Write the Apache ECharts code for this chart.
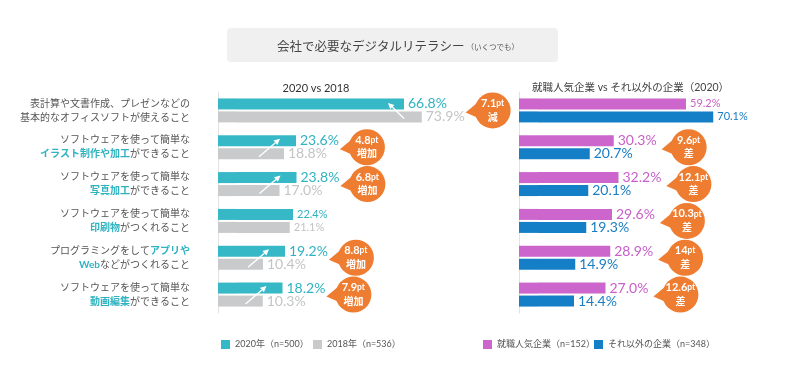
<!DOCTYPE html>
<html><head><meta charset="utf-8">
<script src="https://cdn.jsdelivr.net/npm/echarts@6/dist/echarts.min.js"></script>
<style>html,body{margin:0;padding:0;background:#fff}#c{width:800px;height:380px}</style>
</head><body><div id="c"></div>
<script>
// ---------- data ----------
const categories = [
  '表計算や文書作成、プレゼンなどの\n基本的なオフィスソフトが使えること',
  'ソフトウェアを使って簡単な\n[イラスト制作や加工]ができること',
  'ソフトウェアを使って簡単な\n[写真加工]ができること',
  'ソフトウェアを使って簡単な\n[印刷物]がつくれること',
  'プログラミングをして[アプリや]\n[Web]などがつくれること',
  'ソフトウェアを使って簡単な\n[動画編集]ができること'
];
const v2020 = [66.8, 23.6, 23.8, 22.4, 19.2, 18.2];
const v2018 = [73.9, 18.8, 17.0, 21.1, 10.4, 10.3];
const vPopular = [59.2, 30.3, 32.2, 29.6, 28.9, 27.0];
const vOther = [70.1, 20.7, 20.1, 19.3, 14.9, 14.4];
const diffLeft = ['7.1', '4.8', '6.8', null, '8.8', '7.9'];
const diffLeftWord = ['減', '増加', '増加', null, '増加', '増加'];
const diffRight = [null, '9.6', '12.1', '10.3', '14', '12.6'];
const diffRightWord = [null, '差', '差', '差', '差', '差'];
const seriesNames = ['2020年（n=500）', '2018年（n=536）', '就職人気企業（n=152）', 'それ以外の企業（n=348）'];
const titleText = '会社で必要なデジタルリテラシー';
const titleSub = '（いくつでも）';
const headerLeft = '2020 vs 2018';
const headerRight = '就職人気企業 vs それ以外の企業（2020）';

// ---------- style ----------
const FF = 'Lato, "Noto Sans CJK JP", sans-serif';
const C = { teal: '#37b8c6', gray: '#c9cacc', pink: '#cc66cc', blue: '#147fc6', orange: '#ee7d31',
            tealT: '#2fb3c1', grayT: '#c3c4c6', pinkT: '#c95fc9', blueT: '#1a7dc2' };
const PAD = 7.6;       // bars in the original start with a fixed offset
const BW = 11, LBL_DIST = 4;
const smallLeft = [3], smallRight = [0];

function fmtCat(s) {
  return s.split('\n').map(line => line.split(/(\[[^\]]+\])/).filter(Boolean)
    .map(t => t[0] === '[' ? '{h|' + t.slice(1, -1) + '}' : '{n|' + t + '}').join('')).join('\n');
}
function fontSizeOf(i, small) { return small.indexOf(i) >= 0 ? 11 : 14; }

function mkPair(stack, name, vals, color, tcolor, small, axis) {
  return [
    { type: 'bar', name: '_pad_' + stack, stack: stack, xAxisIndex: axis, yAxisIndex: axis, barWidth: BW, barGap: '18%',
      silent: true, itemStyle: { color: color }, data: vals.map(() => PAD) },
    { type: 'bar', name: name, stack: stack, xAxisIndex: axis, yAxisIndex: axis, barWidth: BW, barGap: '18%',
      itemStyle: { color: color },
      data: vals.map((v, i) => ({ value: v, label: { fontSize: fontSizeOf(i, small) } })),
      label: { show: true, position: 'right', distance: LBL_DIST, color: tcolor, fontFamily: FF, fontSize: 14,
        formatter: p => vals[p.dataIndex].toFixed(1) + '%' } }
  ];
}

const chart = echarts.init(document.getElementById('c'), null, { renderer: 'canvas' });
const legendBase = { top: 335, itemWidth: 9, itemHeight: 9, icon: 'rect', textStyle: { fontSize: 9, color: '#555', fontFamily: FF } };
const option = {
  animation: false,
  grid: [
    { left: 218, top: 92, width: 250, height: 221 },
    { left: 519, top: 92, width: 250, height: 221 }
  ],
  xAxis: [
    { type: 'value', gridIndex: 0, min: 0, max: 100, show: false },
    { type: 'value', gridIndex: 1, min: 0, max: 100, show: false }
  ],
  yAxis: [
    { type: 'category', gridIndex: 0, inverse: true, data: categories,
      axisLine: { lineStyle: { color: '#e2e2e2' } }, axisTick: { show: false },
      axisLabel: { margin: 28, formatter: fmtCat,
        rich: { n: { fontSize: 10, color: '#555', lineHeight: 14, fontFamily: FF },
                h: { fontSize: 10, color: C.tealT, fontWeight: 'bold', lineHeight: 14, fontFamily: FF } } } },
    { type: 'category', gridIndex: 1, inverse: true, data: categories,
      axisLine: { lineStyle: { color: '#e2e2e2' } }, axisTick: { show: false }, axisLabel: { show: false } }
  ],
  legend: [
    Object.assign({ left: 216, data: [seriesNames[0]] }, legendBase),
    Object.assign({ left: 308, data: [seriesNames[1]] }, legendBase),
    Object.assign({ left: 478, data: [seriesNames[2]] }, legendBase),
    Object.assign({ left: 589, data: [seriesNames[3]] }, legendBase)
  ],
  series: [].concat(
    mkPair('L20', seriesNames[0], v2020, C.teal, C.tealT, smallLeft, 0),
    mkPair('L18', seriesNames[1], v2018, C.gray, C.grayT, smallLeft, 0),
    mkPair('RP', seriesNames[2], vPopular, C.pink, C.pinkT, smallRight, 1),
    mkPair('RO', seriesNames[3], vOther, C.blue, C.blueT, smallRight, 1)
  )
};
chart.setOption(option);

// ---------- annotations computed from the rendered bars ----------
const ctx = document.createElement('canvas').getContext('2d');
function textW(t, size) { ctx.font = size + 'px Lato'; return ctx.measureText(t).width; }
function rect(si, j) {
  const l = chart.getModel().getSeriesByIndex(si).getData().getItemLayout(j);
  const x0 = Math.min(l.x, l.x + l.width), x1 = Math.max(l.x, l.x + l.width);
  const y0 = Math.min(l.y, l.y + l.height), y1 = Math.max(l.y, l.y + l.height);
  return { x0, x1, y0, y1, cy: (y0 + y1) / 2 };
}
function arrow(x1, y1, x2, y2) {
  const dx = x2 - x1, dy = y2 - y1, L = Math.hypot(dx, dy), ux = dx / L, uy = dy / L;
  const bx = x2 - ux * 6, by = y2 - uy * 6;
  return [
    { type: 'line', z: 100, shape: { x1, y1, x2: bx, y2: by }, style: { stroke: '#fff', lineWidth: 1.4 } },
    { type: 'polygon', z: 100, shape: { points: [[x2, y2], [bx - uy * 3, by + ux * 3], [bx + uy * 3, by - ux * 3]] }, style: { fill: '#fff' } }
  ];
}
function bubble(cx, cy, num, word) {
  return {
    type: 'group', x: cx, y: cy, z: 100,
    children: [
      { type: 'polygon', shape: { points: [[-27, 2], [-15, -8], [-11, 9]] }, style: { fill: C.orange } },
      { type: 'circle', shape: { cx: 0, cy: 0, r: 18 }, style: { fill: C.orange } },
      { type: 'text', style: { x: 0, y: 0, align: 'center', verticalAlign: 'middle',
          text: '{n|' + num + '}{p|pt}\n{k|' + word + '}',
          rich: { n: { fontSize: 11, fontWeight: 'bold', fill: '#fff', fontFamily: FF, lineHeight: 14 },
                  p: { fontSize: 8.5, fontWeight: 'bold', fill: '#fff', fontFamily: FF, lineHeight: 14 },
                  k: { fontSize: 10, fontWeight: 'bold', fill: '#fff', fontFamily: FF, lineHeight: 14 } } } }
    ]
  };
}
const g = [
  { type: 'rect', shape: { x: 227, y: 28, width: 331, height: 34, r: 4 }, style: { fill: '#f0f0f0' } },
  { type: 'text', style: { x: 277, y: 47, verticalAlign: 'middle', text: '{a|' + titleText + '}{b|' + titleSub + '}',
      rich: { a: { fontSize: 12.5, fill: '#444', fontFamily: FF }, b: { fontSize: 7.5, fill: '#555', fontFamily: FF, padding: [2, 0, 0, 2] } } } },
  { type: 'text', style: { x: 316, y: 88, align: 'center', verticalAlign: 'middle', text: headerLeft, fontSize: 11, fill: '#333', fontFamily: FF } },
  { type: 'text', style: { x: 532, y: 88, verticalAlign: 'middle', text: headerRight, fontSize: 10.5, fill: '#444', fontFamily: FF } }
];
function labelEnd(r, v, i, small) { return r.x1 + LBL_DIST + textW(v.toFixed(1) + '%', fontSizeOf(i, small)); }
for (let i = 0; i < categories.length; i++) {
  const t = rect(1, i), gr = rect(3, i);
  if (diffLeft[i]) {
    if (v2020[i] < v2018[i]) g.push(...arrow(t.x1, gr.cy + 1.5, t.x1 - 16, t.cy - 1));
    else g.push(...arrow(t.x1 - 37, gr.cy + 3, t.x1 - 16, t.cy - 2));
    const le = Math.max(labelEnd(t, v2020[i], i, smallLeft), labelEnd(gr, v2018[i], i, smallLeft));
    g.push(bubble(le + 28, (t.cy + gr.cy) / 2, diffLeft[i], diffLeftWord[i]));
  }
  if (diffRight[i]) {
    const p = rect(5, i), o = rect(7, i);
    const le = Math.max(labelEnd(p, vPopular[i], i, smallRight), labelEnd(o, vOther[i], i, smallRight));
    g.push(bubble(le + 32, (p.cy + o.cy) / 2, diffRight[i], diffRightWord[i]));
  }
}
chart.setOption({ graphic: g });
</script></body></html>
